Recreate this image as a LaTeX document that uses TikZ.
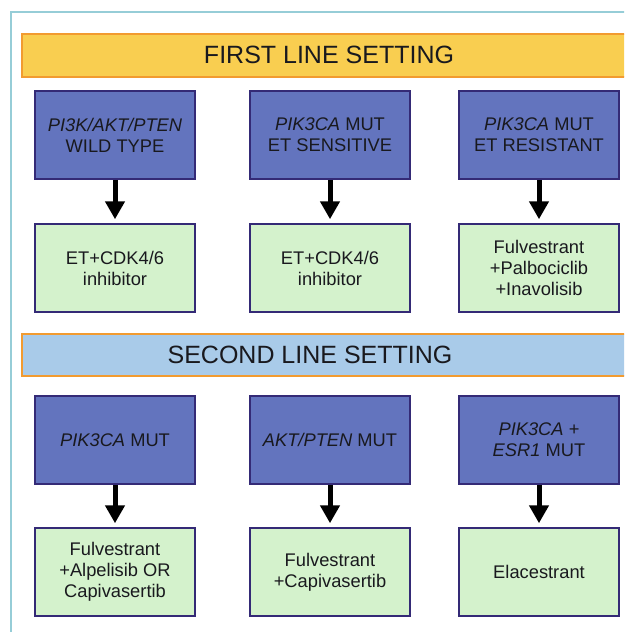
\documentclass[tikz,border=0pt]{standalone}
\usepackage{fontspec}
\setmainfont{Liberation Sans}
\usetikzlibrary{arrows.meta}
\definecolor{bluefill}{RGB}{99,116,190}
\definecolor{boxborder}{RGB}{52,42,118}
\definecolor{greenfill}{RGB}{212,242,204}
\definecolor{yellowfill}{RGB}{249,206,80}
\definecolor{orangeborder}{RGB}{242,155,48}
\definecolor{lightbluefill}{RGB}{169,203,233}
\definecolor{framecol}{RGB}{150,205,215}
\definecolor{textcol}{RGB}{25,25,30}
\tikzset{
  px/.style={x=1pt,y=-1pt},
  boxbase/.style={draw=boxborder,line width=1.5pt,minimum width=160pt,minimum height=88pt,
    inner sep=0pt,align=center,text=textcol,font=\fontsize{18.3}{21}\selectfont},
  condbox/.style={boxbase,fill=bluefill},
  treatbox/.style={boxbase,fill=greenfill},
  header/.style={draw=orangeborder,line width=2pt},
  headtext/.style={font=\fontsize{25}{30}\selectfont,text=textcol,inner sep=0pt},
  flowarrow/.style={line width=5pt,-{Triangle[width=19pt,length=18pt]},shorten >=4pt}
}
\begin{document}
\begin{tikzpicture}[px]
\useasboundingbox (0,0) rectangle (624,632);
\clip (0,0) rectangle (624,632);
\fill[white] (0,0) rectangle (624,632);
% frame
\draw[framecol,line width=1.5pt] (11,640) -- (11,12) -- (640,12);
% headers
\draw[header,fill=yellowfill] (22,34) rectangle (640,77);
\node[headtext] (h1) at (329,55) {FIRST LINE SETTING};
\draw[header,fill=lightbluefill] (22,334) rectangle (640,376);
\node[headtext] (h2) at (310,355) {SECOND LINE SETTING};
% row 1
\node[condbox] (c11) at (115,135) {\textit{PI3K/AKT/PTEN}\\WILD TYPE};
\node[condbox] (c12) at (330,135) {\textit{PIK3CA} MUT\\ET SENSITIVE};
\node[condbox] (c13) at (539,135) {\textit{PIK3CA} MUT\\ET RESISTANT};
\node[treatbox] (t11) at (115,268) {ET+CDK4/6\\inhibitor};
\node[treatbox] (t12) at (330,268) {ET+CDK4/6\\inhibitor};
\node[treatbox] (t13) at (539,268) {Fulvestrant\\+Palbociclib\\+Inavolisib};
% row 2
\node[condbox] (c21) at (115,440) {\textit{PIK3CA} MUT};
\node[condbox] (c22) at (330,440) {\textit{AKT/PTEN} MUT};
\node[condbox] (c23) at (539,440) {\textit{PIK3CA} +\\\textit{ESR1} MUT};
\node[treatbox] (t21) at (115,572) {Fulvestrant\\+Alpelisib OR\\Capivasertib};
\node[treatbox] (t22) at (330,572) {Fulvestrant\\+Capivasertib};
\node[treatbox] (t23) at (539,572) {Elacestrant};
% arrows
\foreach \a/\b in {c11/t11,c12/t12,c13/t13,c21/t21,c22/t22,c23/t23}
  \draw[flowarrow] (\a.south) -- (\b.north);
\end{tikzpicture}
\end{document}
